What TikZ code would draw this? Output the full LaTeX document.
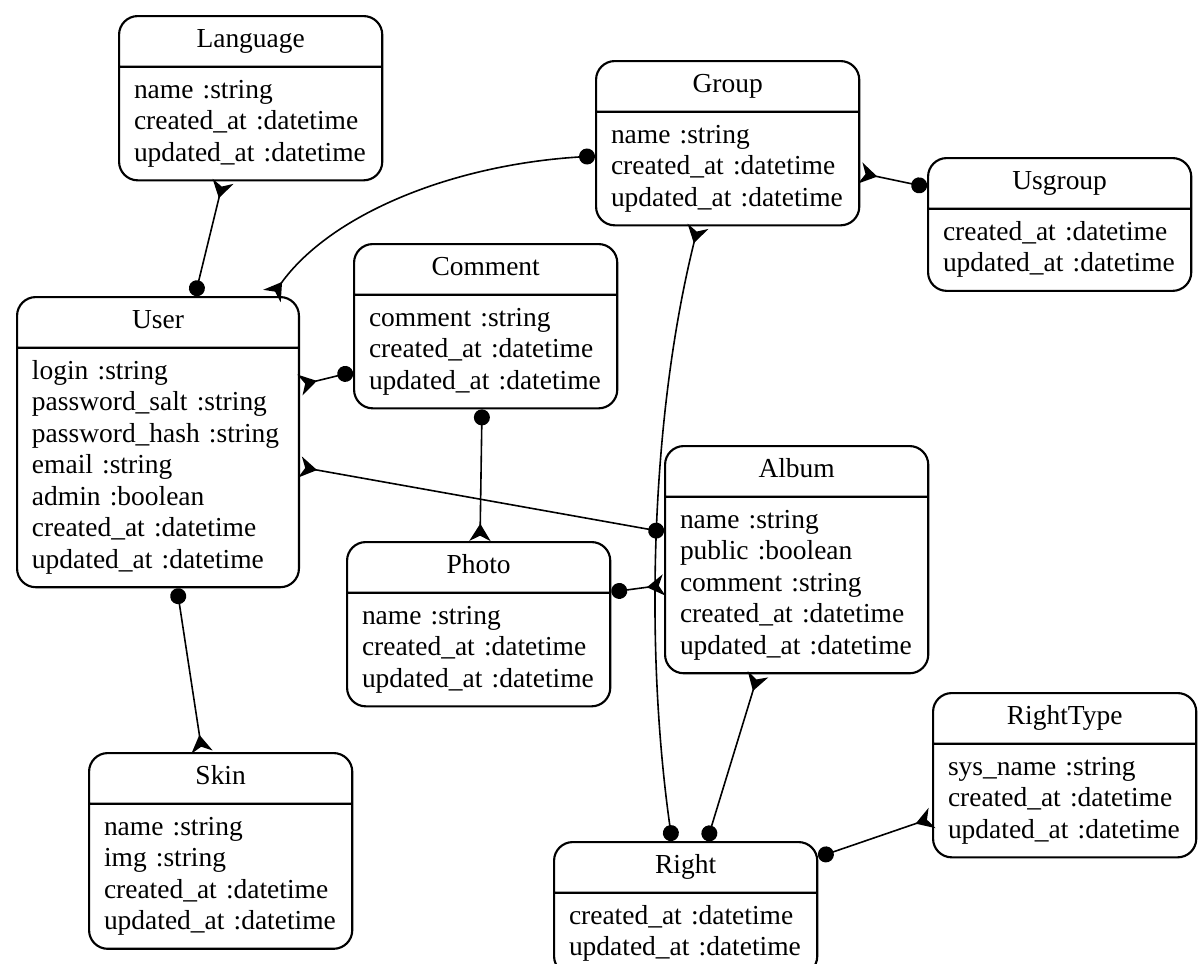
\documentclass[tikz,border=0pt]{standalone}
\usepackage{fontspec}
\setmainfont{Liberation Serif}
\usepackage{tikz}
\usetikzlibrary{shapes.multipart, arrows.meta, calc}
\newcommand{\entfont}{\fontsize{10.3}{11.8}\selectfont}
\newcommand{\enttitle}[1]{\hbox to \hsize{\hfil\strut #1\hfil}}
\tikzstyle{entity}=[rectangle split, rectangle split parts=2, rounded corners=7pt, draw=black, line width=0.8pt, inner xsep=5.6pt, inner ysep=3.2pt, text width=87.5pt, align=left, anchor=north west, font=\entfont]
\tikzstyle{relation}=[line width=0.6pt, {Circle[length=6pt]}-{Stealth[reversed, length=6.5pt, width=8pt, inset=2pt]}]

\begin{document}
\begin{tikzpicture}[x=0.375pt, y=-0.375pt]
	\useasboundingbox (0,0) rectangle (1200,964);

	% entities
	\node[entity] (language) at (118,15) {\enttitle{Language}
		\nodepart{two}\strut name :string\\ created\_at :datetime\\ updated\_at :datetime\strut};
	\node[entity] (group) at (595,60) {\enttitle{Group}
		\nodepart{two}\strut name :string\\ created\_at :datetime\\ updated\_at :datetime\strut};
	\node[entity] (usgroup) at (927,157) {\enttitle{Usgroup}
		\nodepart{two}\strut created\_at :datetime\\ updated\_at :datetime\strut};
	\node[entity] (comment) at (353,243) {\enttitle{Comment}
		\nodepart{two}\strut comment :string\\ created\_at :datetime\\ updated\_at :datetime\strut};
	\node[entity, text width=94.5pt] (user) at (16,296) {\enttitle{User}
		\nodepart{two}\strut login :string\\ password\_salt :string\\ password\_hash :string\\ email :string\\ admin :boolean\\ created\_at :datetime\\ updated\_at :datetime\strut};
	\node[entity] (album) at (664,445) {\enttitle{Album}
		\nodepart{two}\strut name :string\\ public :boolean\\ comment :string\\ created\_at :datetime\\ updated\_at :datetime\strut};
	\node[entity] (photo) at (346,541) {\enttitle{Photo}
		\nodepart{two}\strut name :string\\ created\_at :datetime\\ updated\_at :datetime\strut};
	\node[entity] (skin) at (88,752) {\enttitle{Skin}
		\nodepart{two}\strut name :string\\ img :string\\ created\_at :datetime\\ updated\_at :datetime\strut};
	\node[entity] (righttype) at (932,692) {\enttitle{RightType}
		\nodepart{two}\strut sys\_name :string\\ created\_at :datetime\\ updated\_at :datetime\strut};
	\node[entity] (right) at (553,841) {\enttitle{Right}
		\nodepart{two}\strut created\_at :datetime\\ updated\_at :datetime\strut};

	% relations: dot end first, crow's foot last
	\draw[relation] ($(user.north west)+(179,0)$) -- ($(language.south west)+(105,0)$);
	\draw[relation] ($(group.north west)+(0,96)$) .. controls (450,165) and (330,215) .. ($(user.north west)+(256,0)$);
	\draw[relation] ($(usgroup.north west)+(0,30)$) -- ($(group.north east)+(0,113)$);
	\draw[relation] ($(right.north west)+(119,0)$) .. controls (645,650) and (650,420) .. ($(group.south west)+(103,0)$);
	\draw[relation] ($(comment.north west)+(0,129)$) -- ($(user.north east)+(0,89)$);
	\draw[relation] ($(comment.south west)+(129,0)$) -- ($(photo.north west)+(134,0)$);
	\draw[relation] ($(album.north west)+(0,87)$) -- ($(user.north east)+(0,171)$);
	\draw[relation] ($(photo.north east)+(0,51)$) -- ($(album.north west)+(0,140)$);
	\draw[relation] ($(right.north west)+(154,0)$) -- ($(album.south west)+(94,0)$);
	\draw[relation] ($(right.north east)+(0,16)$) -- ($(righttype.north west)+(0,126)$);
	\draw[relation] ($(user.south west)+(161,0)$) -- ($(skin.north west)+(114,0)$);
\end{tikzpicture}
\end{document}
